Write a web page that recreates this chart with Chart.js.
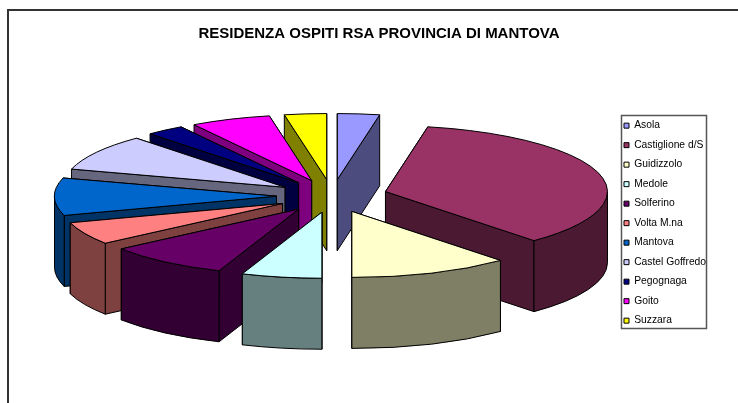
<!DOCTYPE html>
<html>
<head>
<meta charset="utf-8">
<style>html,body{margin:0;padding:0;background:#fff}canvas{display:block}</style>
<script src="https://cdn.jsdelivr.net/npm/chart.js@4"></script>
</head>
<body>
<canvas id="c" width="738" height="403"></canvas>
<script>
const chartTitle = 'RESIDENZA OSPITI RSA PROVINCIA DI MANTOVA';
const categories = ['Asola','Castiglione d/S','Guidizzolo','Medole','Solferino','Volta M.na','Mantova','Castel Goffredo','Pegognaga','Goito','Suzzara'];
const values = [11,127,42,21,32,20,33,32,10,21,11];
const topColors = ['#9999FF','#993366','#FFFFCC','#CCFFFF','#660066','#FF8080','#0066CC','#CCCCFF','#000080','#FF00FF','#FFFF00'];
const wallColors = ['#4C4C7F','#4C1933','#7F7F66','#667F7F','#330033','#7F4040','#003366','#66667F','#000040','#7F007F','#7F7F00'];

const RX = 222, RY = 66, DEPTH = 71, EXPLODE = 0.25;

const pie3d = {
  id: 'pie3d',
  afterLayout(chart) {
    const lg = chart.legend;
    lg.left = 614.8; lg.top = 111.3; lg.bottom = 403;
  },
  beforeDraw(chart) {
    const ctx = chart.ctx;
    ctx.save();
    ctx.strokeStyle = '#333'; ctx.lineWidth = 2;
    ctx.beginPath();
    ctx.moveTo(8, 403); ctx.lineTo(8, 10); ctx.lineTo(738, 10);
    ctx.stroke();
    ctx.strokeStyle = '#555'; ctx.lineWidth = 1.5;
    ctx.strokeRect(621.5, 115.5, 85, 213);
    ctx.restore();
  },
  beforeDatasetDraw() { return false; },
  afterDatasetsDraw(chart) {
    const ctx = chart.ctx;
    const arcs = chart.getDatasetMeta(0).data;
    const items = arcs.map((arc, i) => {
      const mid = (arc.startAngle + arc.endAngle) / 2;
      return {arc, i, mid, ox: arc.x + Math.cos(mid) * RX * EXPLODE, oy: arc.y + Math.sin(mid) * RY * EXPLODE};
    }).sort((a, b) => Math.sin(a.mid) - Math.sin(b.mid));
    ctx.save();
    ctx.strokeStyle = '#000';
    ctx.lineWidth = 1;
    ctx.lineJoin = 'round';
    items.forEach(({arc, i, ox, oy}) => {
      const s = arc.startAngle, e = arc.endAngle;
      const pt = a => [ox + Math.cos(a) * RX, oy + Math.sin(a) * RY];
      const walls = [s, e].sort((a, b) => Math.sin(a) - Math.sin(b));
      ctx.fillStyle = wallColors[i];
      walls.forEach(a => {
        const [x, y] = pt(a);
        ctx.beginPath();
        ctx.moveTo(ox, oy); ctx.lineTo(x, y); ctx.lineTo(x, y + DEPTH); ctx.lineTo(ox, oy + DEPTH);
        ctx.closePath(); ctx.fill(); ctx.stroke();
      });
      const a0 = Math.max(s, 0), a1 = Math.min(e, Math.PI);
      if (a0 < a1) {
        ctx.beginPath();
        ctx.ellipse(ox, oy, RX, RY, 0, a0, a1);
        ctx.ellipse(ox, oy + DEPTH, RX, RY, 0, a1, a0, true);
        ctx.closePath(); ctx.fill(); ctx.stroke();
      }
      ctx.fillStyle = topColors[i];
      ctx.beginPath();
      ctx.moveTo(ox, oy);
      ctx.ellipse(ox, oy, RX, RY, 0, s, e);
      ctx.closePath(); ctx.fill(); ctx.stroke();
    });
    ctx.restore();
  }
};

new Chart(document.getElementById('c'), {
  type: 'pie',
  data: {
    labels: categories,
    datasets: [{data: values, backgroundColor: topColors, borderColor: '#000', borderWidth: 1}]
  },
  plugins: [pie3d],
  options: {
    responsive: false,
    animation: false,
    events: [],
    layout: {padding: {left: 52, right: 32, top: 0, bottom: 61}},
    plugins: {
      tooltip: {enabled: false},
      title: {
        display: true, text: chartTitle, color: '#000',
        font: {family: '"Liberation Sans", Arial, sans-serif', size: 15, weight: 'bold'},
        padding: {top: 25, bottom: 7}
      },
      legend: {
        position: 'right', align: 'start', maxWidth: 94,
        labels: {
          color: '#000', boxWidth: 5, boxHeight: 5, padding: 9.2,
          font: {family: '"Liberation Sans", Arial, sans-serif', size: 10.3}
        }
      }
    }
  }
});
</script>
</body>
</html>
